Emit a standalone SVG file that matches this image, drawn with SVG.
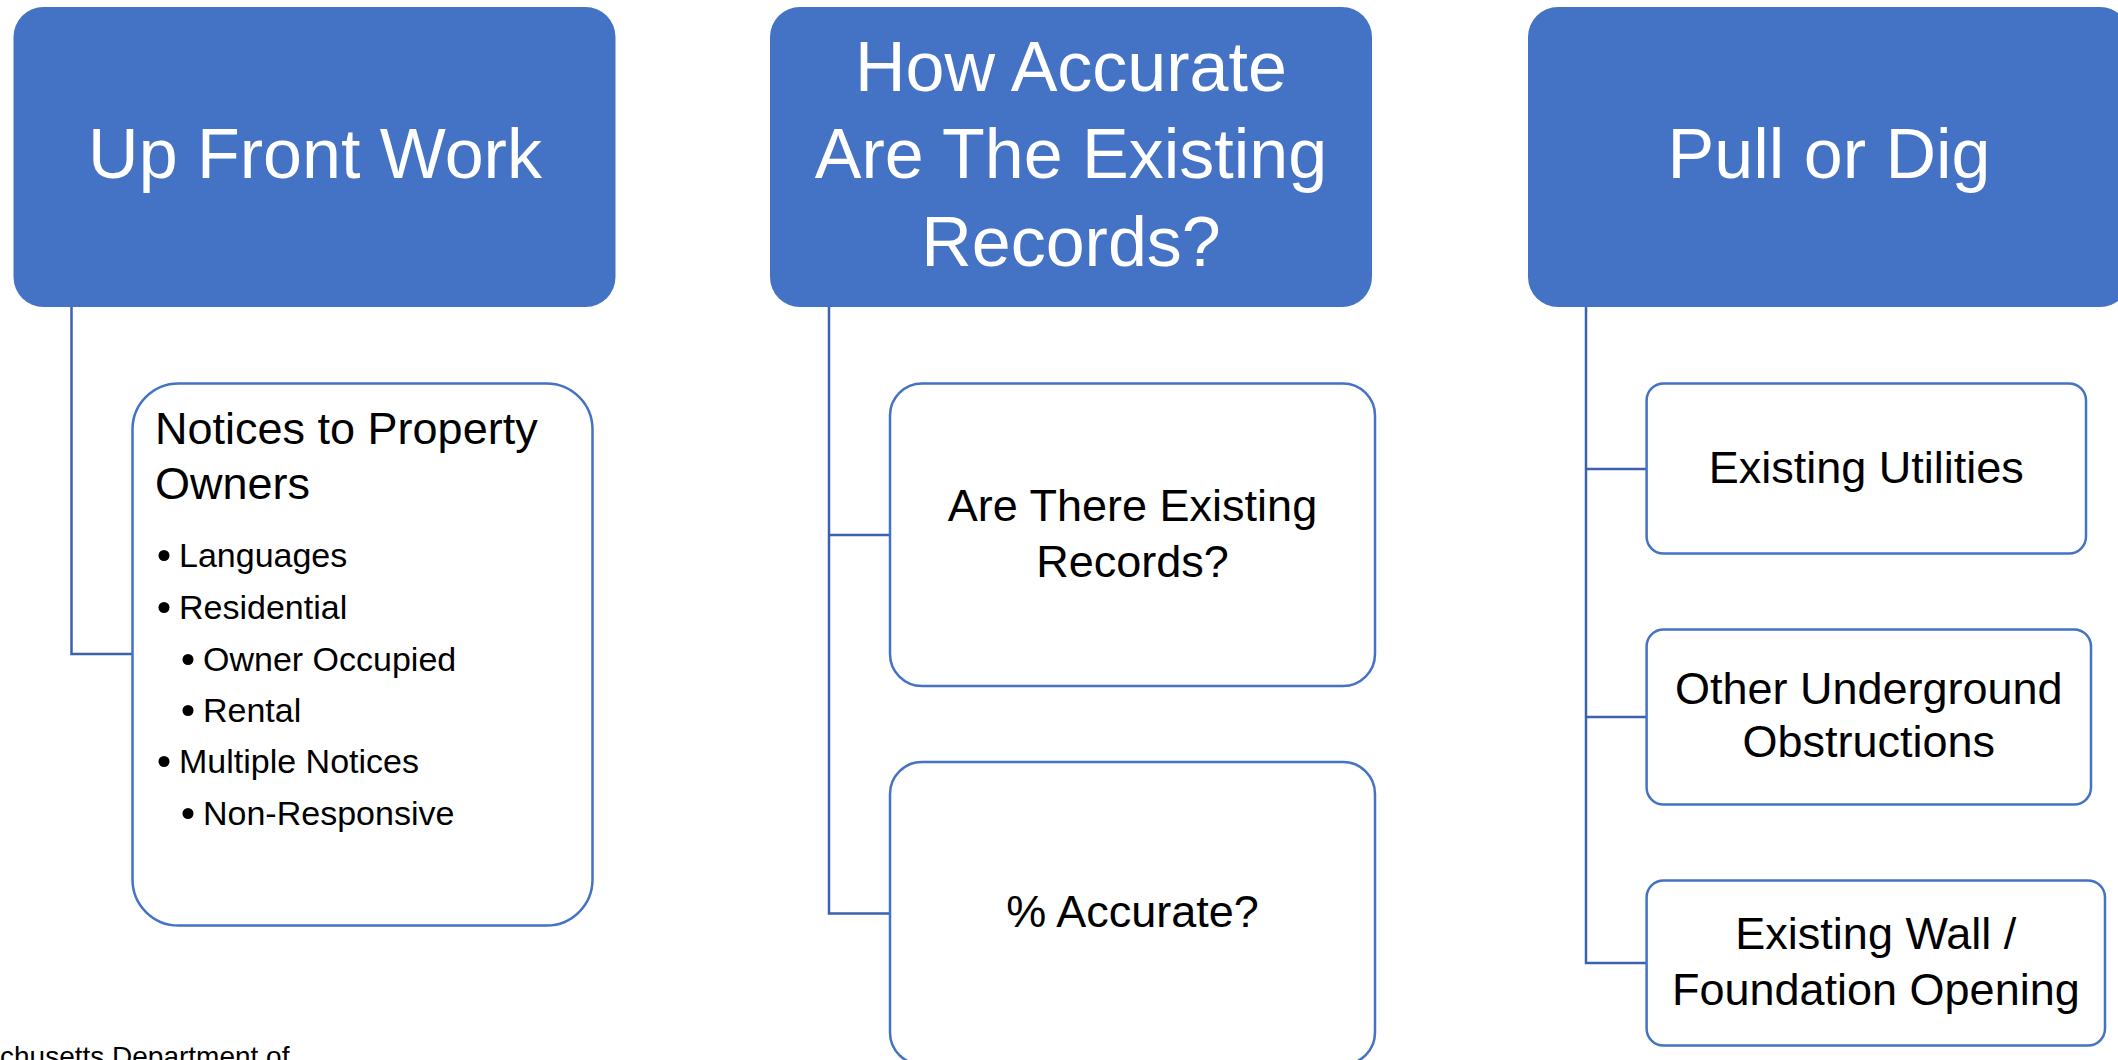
<svg xmlns="http://www.w3.org/2000/svg" width="2118" height="1060" viewBox="0 0 2118 1060">
<style>
.hdr{fill:#4472C4;}
.hdrt{fill:#FFFFFF;font-family:"Liberation Sans",Arial,sans-serif;font-size:70px;text-anchor:middle;}
.box{fill:#FFFFFF;stroke:#4472C4;stroke-width:2.5;}
.t{fill:#000000;font-family:"Liberation Sans",Arial,sans-serif;font-size:45px;}
.tc{text-anchor:middle;}
.b{fill:#000000;font-family:"Liberation Sans",Arial,sans-serif;font-size:34px;}
.dot{fill:#000000;}
.conn{fill:none;stroke:#3B62AE;stroke-width:2.5;}
.foot{fill:#000000;font-family:"Liberation Sans",Arial,sans-serif;font-size:28px;}
</style>
<rect x="0" y="0" width="2118" height="1060" fill="#FFFFFF"/>
<g id="connectors">
<path class="conn" d="M71.5 307 V654 H132"/>
<path class="conn" d="M829 307 V913.5 H890"/>
<path class="conn" d="M829 535 H890"/>
<path class="conn" d="M1586 307 V963 H1646.6"/>
<path class="conn" d="M1586 469 H1646.6"/>
<path class="conn" d="M1586 717 H1646.6"/>
</g>
<g id="up-front-work">
<rect class="hdr" x="13.5" y="7" width="602" height="300" rx="30" ry="30"/>
<text class="hdrt" x="315" y="178">Up Front Work</text>
</g>
<g id="how-accurate">
<rect class="hdr" x="770" y="7" width="602" height="300" rx="30" ry="30"/>
<text class="hdrt" x="1071" y="91">How Accurate</text>
<text class="hdrt" x="1071" y="178">Are The Existing</text>
<text class="hdrt" x="1071" y="266">Records?</text>
</g>
<g id="pull-or-dig">
<rect class="hdr" x="1528" y="7" width="602" height="300" rx="30" ry="30"/>
<text class="hdrt" x="1829" y="178">Pull or Dig</text>
</g>
<g id="notices">
<rect class="box" x="132.5" y="383.5" width="460" height="542" rx="46" ry="46"/>
<text class="t" x="155" y="444">Notices to Property</text>
<text class="t" x="155" y="499">Owners</text>
<circle class="dot" cx="164" cy="555.5" r="5.5"/>
<text class="b" x="179" y="567">Languages</text>
<circle class="dot" cx="164" cy="607.5" r="5.5"/>
<text class="b" x="179" y="619">Residential</text>
<circle class="dot" cx="188" cy="659.5" r="5.5"/>
<text class="b" x="203" y="671">Owner Occupied</text>
<circle class="dot" cx="188" cy="710.5" r="5.5"/>
<text class="b" x="203" y="722">Rental</text>
<circle class="dot" cx="164" cy="761.5" r="5.5"/>
<text class="b" x="179" y="773">Multiple Notices</text>
<circle class="dot" cx="188" cy="813.5" r="5.5"/>
<text class="b" x="203" y="825">Non-Responsive</text>
</g>
<g id="are-there-existing-records">
<rect class="box" x="890" y="383.5" width="485" height="302.5" rx="32" ry="32"/>
<text class="t tc" x="1132.5" y="521">Are There Existing</text>
<text class="t tc" x="1132.5" y="577">Records?</text>
</g>
<g id="percent-accurate">
<rect class="box" x="890" y="762" width="485" height="302.5" rx="32" ry="32"/>
<text class="t tc" x="1132.5" y="927">% Accurate?</text>
</g>
<g id="existing-utilities">
<rect class="box" x="1646.6" y="383.5" width="439.4" height="170" rx="17" ry="17"/>
<text class="t tc" x="1866.3" y="483">Existing Utilities</text>
</g>
<g id="other-underground">
<rect class="box" x="1646.6" y="629.5" width="444.4" height="175" rx="17" ry="17"/>
<text class="t tc" x="1868.8" y="704">Other Underground</text>
<text class="t tc" x="1868.8" y="757">Obstructions</text>
</g>
<g id="existing-wall">
<rect class="box" x="1646.6" y="880.5" width="458.4" height="165" rx="17" ry="17"/>
<text class="t tc" x="1875.8" y="949">Existing Wall /</text>
<text class="t tc" x="1875.8" y="1005">Foundation Opening</text>
</g>
<text class="foot" x="0" y="1066">chusetts Department of</text>
</svg>
